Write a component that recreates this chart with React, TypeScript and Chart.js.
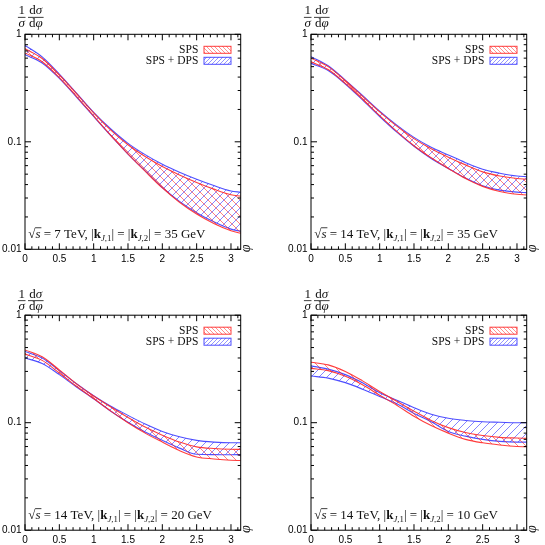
import React, { useEffect, useRef } from 'react';
import { Chart, registerables } from 'chart.js';

Chart.register(...registerables);

// ---------------- data ----------------
const PHI = [0, 0.25, 0.5, 0.75, 1, 1.25, 1.5, 1.75, 2, 2.25, 2.5, 2.75, 3, Math.PI];

const X_TICKS = [0, 0.5, 1, 1.5, 2, 2.5, 3];
const X_TICK_LABELS = ['0', '0.5', '1', '1.5', '2', '2.5', '3'];
const Y_TICKS = [0.01, 0.1, 1];
const Y_TICK_LABELS = ['0.01', '0.1', '1'];

const LEGEND_LABELS = ['SPS', 'SPS + DPS'];
const SQRT_S = ['7', '14', '14', '14'];
const K_J = ['35', '35', '20', '10'];

// panel 1: sqrt(s)=7 TeV, k=35 GeV
const P1_SPS_HI = [0.736, 0.596, 0.419, 0.280, 0.186, 0.1285, 0.0938, 0.0729, 0.0589, 0.0492, 0.0419, 0.0363, 0.0322, 0.0312];
const P1_SPS_LO = [0.671, 0.556, 0.396, 0.265, 0.174, 0.115, 0.0773, 0.0533, 0.0372, 0.0274, 0.0213, 0.0174, 0.0149, 0.0141];
const P1_DPS_HI = [0.789, 0.617, 0.427, 0.284, 0.188, 0.1315, 0.0968, 0.0760, 0.0619, 0.0522, 0.0449, 0.0392, 0.0349, 0.0339];
const P1_DPS_LO = [0.646, 0.541, 0.389, 0.261, 0.172, 0.114, 0.0769, 0.0536, 0.0376, 0.0279, 0.0219, 0.0180, 0.0154, 0.0147];

// panel 2: sqrt(s)=14 TeV, k=35 GeV
const P2_SPS_HI = [0.60, 0.50, 0.37, 0.265, 0.19, 0.14, 0.107, 0.086, 0.072, 0.061, 0.0525, 0.048, 0.0455, 0.0448];
const P2_SPS_LO = [0.555, 0.47, 0.35, 0.25, 0.175, 0.125, 0.092, 0.071, 0.0565, 0.0455, 0.0385, 0.0345, 0.0325, 0.032];
const P2_DPS_HI = [0.62, 0.51, 0.375, 0.27, 0.193, 0.143, 0.11, 0.089, 0.0755, 0.064, 0.0555, 0.051, 0.048, 0.0474];
const P2_DPS_LO = [0.537, 0.46, 0.345, 0.245, 0.172, 0.123, 0.091, 0.070, 0.0565, 0.046, 0.039, 0.0355, 0.034, 0.0337];

// panel 3: sqrt(s)=14 TeV, k=20 GeV
const P3_SPS_HI = [0.475, 0.41, 0.31, 0.23, 0.177, 0.14, 0.112, 0.091, 0.0765, 0.066, 0.0596, 0.0575, 0.0566, 0.0565];
const P3_SPS_LO = [0.435, 0.38, 0.29, 0.218, 0.168, 0.128, 0.10, 0.080, 0.066, 0.055, 0.048, 0.046, 0.0447, 0.0445];
const P3_DPS_HI = [0.46, 0.40, 0.305, 0.23, 0.178, 0.142, 0.117, 0.097, 0.083, 0.074, 0.0685, 0.066, 0.065, 0.065];
const P3_DPS_LO = [0.40, 0.355, 0.28, 0.215, 0.167, 0.128, 0.101, 0.082, 0.0685, 0.058, 0.0508, 0.0505, 0.0503, 0.0505];

// panel 4: sqrt(s)=14 TeV, k=10 GeV
const P4_SPS_HI = [0.365, 0.345, 0.30, 0.245, 0.195, 0.158, 0.128, 0.105, 0.09, 0.081, 0.076, 0.073, 0.072, 0.0715];
const P4_SPS_LO = [0.32, 0.305, 0.27, 0.225, 0.18, 0.145, 0.115, 0.094, 0.080, 0.07, 0.065, 0.062, 0.060, 0.0597];
const P4_DPS_HI = [0.338, 0.315, 0.28, 0.235, 0.19, 0.162, 0.138, 0.12, 0.11, 0.105, 0.102, 0.101, 0.10, 0.10];
const P4_DPS_LO = [0.272, 0.26, 0.236, 0.205, 0.175, 0.15, 0.122, 0.102, 0.083, 0.075, 0.070, 0.067, 0.066, 0.066];

// ---------------- layout ----------------
type Panel = {
  left: number; top: number; w: number; h: number;
  plotL: number; plotR: number; plotT: number; plotB: number;
  titleGap: number;
  spsHi: number[]; spsLo: number[]; dpsHi: number[]; dpsLo: number[];
  sqrtS: string; kj: string;
};

const PANELS: Panel[] = [
  { left: 0, top: 0, w: 272, h: 272, plotL: 25, plotR: 240.7, plotT: 34.3, plotB: 249.3, titleGap: 17,
    spsHi: P1_SPS_HI, spsLo: P1_SPS_LO, dpsHi: P1_DPS_HI, dpsLo: P1_DPS_LO, sqrtS: SQRT_S[0], kj: K_J[0] },
  { left: 272, top: 0, w: 273, h: 272, plotL: 39, plotR: 254.7, plotT: 34.3, plotB: 249.3, titleGap: 17,
    spsHi: P2_SPS_HI, spsLo: P2_SPS_LO, dpsHi: P2_DPS_HI, dpsLo: P2_DPS_LO, sqrtS: SQRT_S[1], kj: K_J[1] },
  { left: 0, top: 272, w: 272, h: 273, plotL: 25, plotR: 240.7, plotT: 43.2, plotB: 258.2, titleGap: 14.5,
    spsHi: P3_SPS_HI, spsLo: P3_SPS_LO, dpsHi: P3_DPS_HI, dpsLo: P3_DPS_LO, sqrtS: SQRT_S[2], kj: K_J[2] },
  { left: 272, top: 272, w: 273, h: 273, plotL: 39, plotR: 254.7, plotT: 43.2, plotB: 258.2, titleGap: 14.5,
    spsHi: P4_SPS_HI, spsLo: P4_SPS_LO, dpsHi: P4_DPS_HI, dpsLo: P4_DPS_LO, sqrtS: SQRT_S[3], kj: K_J[3] },
];

const RED_EDGE = 'rgba(255,40,40,0.9)';
const BLUE_EDGE = 'rgba(60,60,255,0.9)';
const RED_HATCH = 'rgba(255,40,40,0.75)';
const BLUE_HATCH = 'rgba(50,50,255,0.75)';
const SERIF = '"Liberation Serif", "Times New Roman", serif';
const SANS = '"Liberation Sans", Arial, sans-serif';
const TEXT = '#111';

function makeHatch(color: string, dir: 1 | -1, period: number, lw: number): CanvasPattern | string {
  const c = document.createElement('canvas');
  c.width = period; c.height = period;
  const g = c.getContext('2d');
  if (!g) return color;
  g.strokeStyle = color;
  g.lineWidth = lw;
  g.beginPath();
  for (let k = -1; k <= 1; k++) {
    if (dir === 1) { // '\'
      g.moveTo(k * period, 0); g.lineTo(k * period + period, period);
    } else { // '/'
      g.moveTo(k * period, period); g.lineTo(k * period + period, 0);
    }
  }
  g.stroke();
  const p = g.createPattern(c, 'repeat');
  return p || color;
}

function drawAnnotation(ctx: CanvasRenderingContext2D, x: number, y: number, sqrtS: string, kj: string) {
  const fs = 13;
  const sub = 8.8;
  let cx = x;
  ctx.fillStyle = TEXT;
  ctx.textAlign = 'left';
  ctx.textBaseline = 'alphabetic';
  const seg = (t: string, font: string, dy = 0) => {
    ctx.font = font;
    ctx.fillText(t, cx, y + dy);
    const w = ctx.measureText(t).width;
    cx += w;
    return w;
  };
  const reg = `${fs}px ${SERIF}`;
  seg('√', reg);
  const sx = cx;
  const sw = seg('s', `italic ${fs}px ${SERIF}`);
  ctx.fillRect(sx - 0.3, y - fs * 0.80, sw + 1.2, 0.8);
  seg(` = ${sqrtS} TeV, |`, reg);
  seg('k', `bold ${fs}px ${SERIF}`);
  seg('J', `italic ${sub}px ${SERIF}`, 2.8);
  seg(',1', `${sub}px ${SERIF}`, 2.8);
  seg('| = |', reg);
  seg('k', `bold ${fs}px ${SERIF}`);
  seg('J', `italic ${sub}px ${SERIF}`, 2.8);
  seg(',2', `${sub}px ${SERIF}`, 2.8);
  seg(`| = ${kj} GeV`, reg);
}

function PanelChart({ p }: { p: Panel }) {
  const ref = useRef<HTMLCanvasElement | null>(null);
  useEffect(() => {
    const canvas = ref.current;
    if (!canvas) return;
    const redPat = makeHatch(RED_HATCH, 1, 8, 0.8);
    const bluePat = makeHatch(BLUE_HATCH, -1, 8, 0.8);
    const redPatSmall = makeHatch(RED_HATCH, 1, 4, 0.7);
    const bluePatSmall = makeHatch(BLUE_HATCH, -1, 4, 0.7);

    const decor = {
      id: 'decor',
      afterDraw(chart: any) {
        const ctx: CanvasRenderingContext2D = chart.ctx;
        const { left, right, top, bottom } = chart.chartArea;
        const xs = chart.scales.x;
        const ys = chart.scales.y;
        ctx.save();
        ctx.strokeStyle = '#000';
        ctx.lineWidth = 1;
        ctx.strokeRect(left, top, right - left, bottom - top);
        ctx.beginPath();
        for (let i = 0; i <= 31; i++) {
          const v = i / 10;
          const px = xs.getPixelForValue(v);
          const L = i % 5 === 0 ? 6 : 3;
          ctx.moveTo(px, bottom); ctx.lineTo(px, bottom - L);
          ctx.moveTo(px, top); ctx.lineTo(px, top + L);
        }
        const yVals: [number, boolean][] = [];
        for (let d = 0; d < Y_TICKS.length - 1; d++) {
          for (let m = 1; m <= 9; m++) yVals.push([Y_TICKS[d] * m, m === 1]);
        }
        yVals.push([Y_TICKS[Y_TICKS.length - 1], true]);
        for (const [v, major] of yVals) {
          const py = ys.getPixelForValue(v);
          const L = major ? 6 : 3;
          ctx.moveTo(left, py); ctx.lineTo(left + L, py);
          ctx.moveTo(right, py); ctx.lineTo(right - L, py);
        }
        ctx.stroke();

        // legend
        const boxW = 27, boxH = 7;
        const boxL = right - 36.7;
        const rows = [
          { label: LEGEND_LABELS[0], pat: redPatSmall, edge: RED_EDGE, y: top + 12 },
          { label: LEGEND_LABELS[1], pat: bluePatSmall, edge: BLUE_EDGE, y: top + 23 },
        ];
        for (const r of rows) {
          ctx.fillStyle = r.pat as any;
          ctx.fillRect(boxL, r.y, boxW, boxH);
          ctx.strokeStyle = r.edge;
          ctx.lineWidth = 1;
          ctx.strokeRect(boxL, r.y, boxW, boxH);
          ctx.fillStyle = TEXT;
          ctx.font = `11.5px ${SERIF}`;
          ctx.textAlign = 'right';
          ctx.textBaseline = 'alphabetic';
          ctx.fillText(r.label, boxL - 5.7, r.y + boxH);
        }

        // annotation
        drawAnnotation(ctx, left + 3.3, bottom - 11.5, p.sqrtS, p.kj);

        // y axis title: 1/sigma dsigma/dphi
        const fs = 13;
        const barY = top - p.titleGap;
        ctx.fillStyle = TEXT;
        ctx.font = `${fs}px ${SERIF}`;
        ctx.textAlign = 'center';
        ctx.textBaseline = 'alphabetic';
        const c1 = left - 3.3;
        ctx.fillText('1', c1, barY - 3);
        ctx.font = `italic ${fs}px ${SERIF}`;
        ctx.fillText('σ', c1, barY + 9.5);
        ctx.fillRect(c1 - 3.8, barY - 0.4, 7.6, 0.8);
        const c2 = left + 10.8;
        ctx.font = `${fs}px ${SERIF}`;
        const dW = ctx.measureText('d').width;
        ctx.font = `italic ${fs}px ${SERIF}`;
        const sW = ctx.measureText('σ').width;
        const fW = ctx.measureText('φ').width;
        ctx.textAlign = 'left';
        let nx = c2 - (dW + sW) / 2;
        ctx.font = `${fs}px ${SERIF}`; ctx.fillText('d', nx, barY - 3);
        ctx.font = `italic ${fs}px ${SERIF}`; ctx.fillText('σ', nx + dW, barY - 3);
        nx = c2 - (dW + fW) / 2;
        ctx.font = `${fs}px ${SERIF}`; ctx.fillText('d', nx, barY + 9.5);
        ctx.font = `italic ${fs}px ${SERIF}`; ctx.fillText('φ', nx + dW, barY + 9.5);
        ctx.fillRect(c2 - 7.8, barY - 0.4, 15.6, 0.8);

        // x axis title (phi), rotated
        ctx.save();
        ctx.translate(right + 5.5, bottom - 1);
        ctx.rotate(-Math.PI / 2);
        ctx.font = `italic 14px ${SERIF}`;
        ctx.textAlign = 'center';
        ctx.textBaseline = 'middle';
        ctx.fillText('φ', 0, 0);
        ctx.restore();

        ctx.restore();
      },
    };

    const mk = (vals: number[]) => PHI.map((x, i) => ({ x, y: vals[i] }));
    const common = { pointRadius: 0, borderWidth: 1.1, cubicInterpolationMode: 'monotone' as const };

    const chart = new Chart(canvas, {
      type: 'line',
      data: {
        datasets: [
          { ...common, label: LEGEND_LABELS[0], data: mk(p.spsHi), borderColor: RED_EDGE, backgroundColor: redPat as any, fill: '+1' },
          { ...common, label: LEGEND_LABELS[0] + ' low', data: mk(p.spsLo), borderColor: RED_EDGE, fill: false },
          { ...common, label: LEGEND_LABELS[1], data: mk(p.dpsHi), borderColor: BLUE_EDGE, backgroundColor: bluePat as any, fill: '+1' },
          { ...common, label: LEGEND_LABELS[1] + ' low', data: mk(p.dpsLo), borderColor: BLUE_EDGE, fill: false },
        ],
      },
      options: {
        animation: false,
        responsive: false,
        maintainAspectRatio: false,
        events: [],
        layout: { padding: { left: 0, top: p.plotT, right: p.w - p.plotR, bottom: 0 } },
        plugins: { legend: { display: false }, tooltip: { enabled: false } },
        scales: {
          x: {
            type: 'linear', min: 0, max: Math.PI,
            grid: { display: false, drawTicks: false },
            border: { display: false },
            ticks: {
              padding: 4, color: '#000', font: { family: SANS, size: 10 },
              maxRotation: 0,
              callback: (v: any) => X_TICK_LABELS[X_TICKS.indexOf(Number(v))] ?? '',
            },
            afterBuildTicks: (s: any) => { s.ticks = X_TICKS.map((v) => ({ value: v })); },
            afterFit: (s: any) => { s.height = p.h - p.plotB; },
          },
          y: {
            type: 'logarithmic', min: 0.01, max: 1,
            grid: { display: false, drawTicks: false },
            border: { display: false },
            ticks: {
              padding: 3.5, color: '#000', font: { family: SANS, size: 10 },
              callback: (v: any) => Y_TICK_LABELS[Y_TICKS.indexOf(Number(v))] ?? '',
            },
            afterBuildTicks: (s: any) => { s.ticks = Y_TICKS.map((v) => ({ value: v })); },
            afterFit: (s: any) => { s.width = p.plotL; },
          },
        },
      } as any,
      plugins: [decor],
    });
    return () => chart.destroy();
  }, [p]);

  return (
    <canvas
      ref={ref}
      width={p.w}
      height={p.h}
      style={{ position: 'absolute', left: p.left, top: p.top, width: p.w, height: p.h }}
    />
  );
}

export default function App() {
  return (
    <div style={{ position: 'absolute', left: 0, top: 0, width: 545, height: 545, background: '#fff' }}>
      {PANELS.map((p, i) => <PanelChart key={i} p={p} />)}
    </div>
  );
}
